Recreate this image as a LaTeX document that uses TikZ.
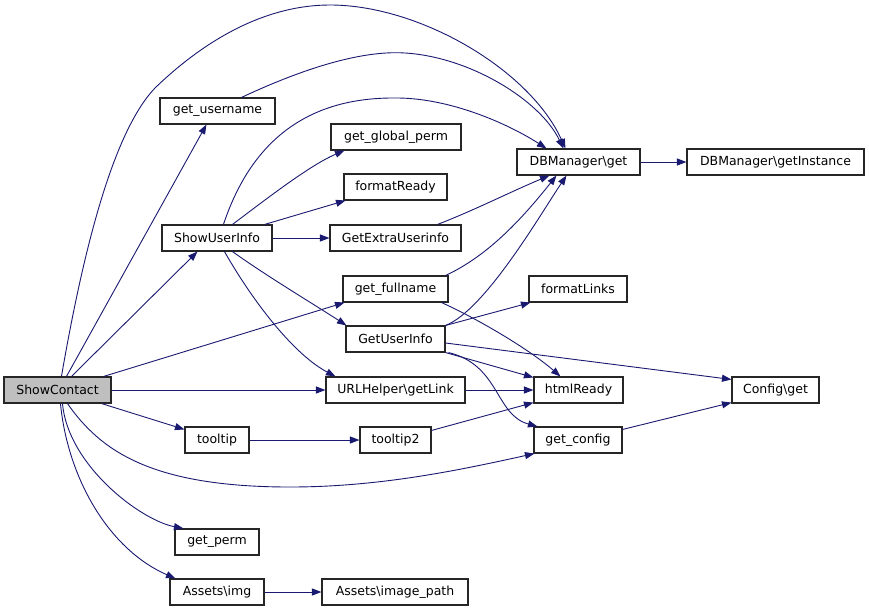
\documentclass[tikz,border=0pt]{standalone}
\usepackage{fontspec}
\setmainfont{DejaVu Sans}
\usetikzlibrary{arrows.meta,calc}
\definecolor{edgeblue}{HTML}{191970}
\definecolor{rootgrey}{HTML}{BFBFBF}
\begin{document}
\begin{tikzpicture}[x=1pt,y=-1pt,
  fn/.style={draw=black!85,line width=1.1pt,fill=white,inner sep=0pt,minimum height=26pt,
    font=\fontsize{12.5}{14}\selectfont,anchor=center},
  edge/.style={draw=edgeblue,line width=0.9pt,-{Triangle[length=9.5pt,width=7pt]}}]
\useasboundingbox (0,0) rectangle (869,611);
% nodes
\node[fn,fill=rootgrey,minimum width=107pt] (SC) at (57.5,390) {ShowContact};
\node[fn,minimum width=115pt] (GU) at (217.5,111) {get\_username};
\node[fn,minimum width=110pt] (SUI) at (217,238) {ShowUserInfo};
\node[fn,minimum width=130pt] (GGP) at (396,137) {get\_global\_perm};
\node[fn,minimum width=103pt] (FR) at (395.5,187) {formatReady};
\node[fn,minimum width=131pt] (GEU) at (395.5,238) {GetExtraUserinfo};
\node[fn,minimum width=105pt] (GFN) at (395.5,289) {get\_fullname};
\node[fn,minimum width=99pt] (GUI) at (395.5,339) {GetUserInfo};
\node[fn,minimum width=139pt] (URL) at (395.5,390) {URLHelper\textbackslash getLink};
\node[fn,minimum width=64pt] (TT) at (217,440) {tooltip};
\node[fn,minimum width=84pt] (GP) at (217,542) {get\_perm};
\node[fn,minimum width=94pt] (AI) at (217,592) {Assets\textbackslash img};
\node[fn,minimum width=71pt] (TT2) at (395.5,440) {tooltip2};
\node[fn,minimum width=146pt] (AIP) at (395,592) {Assets\textbackslash image\_path};
\node[fn,minimum width=123pt] (DBG) at (578.5,162) {DBManager\textbackslash get};
\node[fn,minimum width=177pt] (DBI) at (775.5,162) {DBManager\textbackslash getInstance};
\node[fn,minimum width=98pt] (FL) at (578,289) {formatLinks};
\node[fn,minimum width=89pt] (HR) at (578.5,390) {htmlReady};
\node[fn,minimum width=88pt] (GC) at (578,440) {get\_config};
\node[fn,minimum width=87pt] (CG) at (775.5,390) {Config\textbackslash get};
% edges from ShowContact
\draw[edge] ($(SC.north west)+(58,0)$) .. controls (85,240) and (115,130) .. (155,88)
  .. controls (210,35) and (270,5) .. (330,5) .. controls (420,5) and (530,70) .. ($(DBG.north west)+(49,0)$);
\draw[edge] ($(SC.north west)+(63,0)$) -- ($(GU.south west)+(47,0)$);
\draw[edge] ($(SC.north west)+(68,0)$) -- ($(SUI.south west)+(36,0)$);
\draw[edge] ($(SC.north east)+(-8,0)$) -- ($(GFN.south west)+(2,0)$);
\draw[edge] (SC.east) -- (URL.west);
\draw[edge] ($(SC.south east)+(-10,0)$) -- ($(TT.north west)+(0,3)$);
\draw[edge] ($(SC.south west)+(64,0)$) .. controls (100,450) and (150,487) .. (290,487)
  .. controls (380,487) and (460,470) .. ($(GC.south west)+(1,0)$);
\draw[edge] ($(SC.south west)+(59,0)$) .. controls (68,465) and (140,520) .. ($(GP.north west)+(9,0)$);
\draw[edge] ($(SC.south west)+(57,0)$) .. controls (68,480) and (110,550) .. ($(AI.north west)+(6,0)$);
% get_username
\draw[edge] ($(GU.north west)+(82,0)$) .. controls (300,70) and (360,50) .. (405,53)
  .. controls (470,57) and (540,100) .. ($(DBG.north west)+(47,0)$);
% ShowUserInfo
\draw[edge] ($(SUI.north west)+(62,0)$) .. controls (245,160) and (290,98) .. (393,98)
  .. controls (450,97) and (510,125) .. ($(DBG.north west)+(30,0)$);
\draw[edge] ($(SUI.north west)+(71,0)$) .. controls (265,200) and (310,165) .. ($(GGP.south west)+(14,0)$);
\draw[edge] ($(SUI.north east)+(-8,0)$) -- ($(FR.south west)+(2,0)$);
\draw[edge] (SUI.east) -- (GEU.west);
\draw[edge] ($(SUI.south west)+(71,0)$) .. controls (265,275) and (315,305) .. ($(GUI.north west)+(1,0)$);
\draw[edge] ($(SUI.south west)+(63,0)$) .. controls (255,305) and (295,355) .. ($(URL.north west)+(10,0)$);
% second column
\draw[edge] ($(GEU.north west)+(108,0)$) .. controls (475,210) and (510,192) .. ($(DBG.south west)+(33,0)$);
\draw[edge] ($(GFN.north east)+(-3,0)$) .. controls (490,255) and (525,215) .. ($(DBG.south west)+(40,0)$);
\draw[edge] ($(GFN.south east)+(-7,0)$) .. controls (480,320) and (530,350) .. ($(HR.north west)+(27,0)$);
\draw[edge] (GUI.north east) .. controls (485,310) and (540,215) .. ($(DBG.south west)+(50,0)$);
\draw[edge] (GUI.north east) -- ($(FL.south west)+(2,0)$);
\draw[edge] (GUI.south east) -- ($(HR.north west)+(0,1)$);
\draw[edge] ($(GUI.east)+(0,4)$) -- ($(CG.north west)+(0,3)$);
\draw[edge] ($(GUI.south east)+(3,0)$) .. controls (500,365) and (495,415) .. ($(GC.north west)+(4,0)$);
\draw[edge] (URL.east) -- (HR.west);
\draw[edge] (TT.east) -- (TT2.west);
\draw[edge] ($(TT2.north east)+(0,4)$) -- ($(HR.south west)+(0,-1)$);
\draw[edge] ($(GC.north east)+(0,3)$) -- ($(CG.south west)+(0,-1)$);
\draw[edge] (DBG.east) -- (DBI.west);
\draw[edge] (AI.east) -- (AIP.west);
\end{tikzpicture}
\end{document}
